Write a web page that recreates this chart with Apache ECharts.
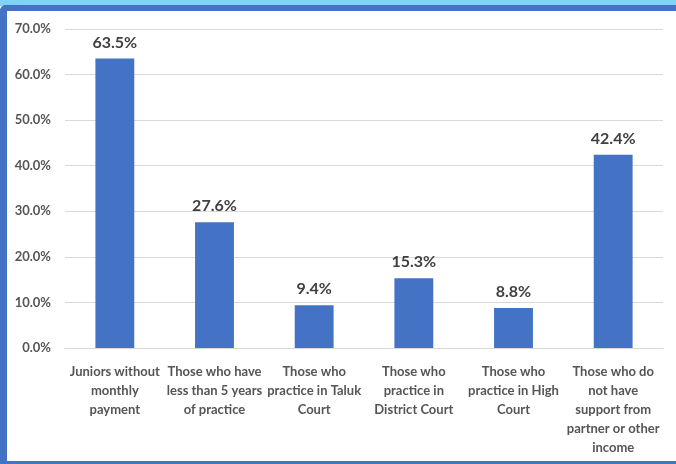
<!DOCTYPE html>
<html>
<head>
<meta charset="utf-8">
<script src="https://cdn.jsdelivr.net/npm/echarts@6/dist/echarts.min.js"></script>
<style>
  html, body { margin: 0; padding: 0; background: #ffffff; }
  #chart { width: 676px; height: 464px; }
</style>
</head>
<body>
<div id="chart"></div>
<script>
// Groups of juniors and their share (%)
const categories = [
  'Juniors without\nmonthly\npayment',
  'Those who have\nless than 5 years\nof practice',
  'Those who\npractice in Taluk\nCourt',
  'Those who\npractice in\nDistrict Court',
  'Those who\npractice in High\nCourt',
  'Those who do\nnot have\nsupport from\npartner or other\nincome'
];
const shares = [63.5, 27.6, 9.4, 15.3, 8.8, 42.4];
const yTicks = { min: 0, max: 70, interval: 10 };

const fontFamily = 'Lato, "Open Sans", sans-serif';

const chart = echarts.init(document.getElementById('chart'), null, { renderer: 'canvas' });
chart.setOption({
  backgroundColor: '#ffffff',
  animation: false,
  grid: { left: 65, right: 13, top: 29, bottom: 116, containLabel: false },
  xAxis: {
    type: 'category',
    data: categories,
    axisLine: { show: true, lineStyle: { color: '#d9d9d9', width: 1 } },
    axisTick: { show: false },
    axisLabel: {
      interval: 0,
      margin: 14,
      color: '#555555',
      fontFamily: fontFamily,
      fontWeight: 'bold',
      fontSize: 13,
      lineHeight: 19,
      align: 'center'
    }
  },
  yAxis: {
    type: 'value',
    min: yTicks.min,
    max: yTicks.max,
    interval: yTicks.interval,
    axisLine: { show: false },
    axisTick: { show: false },
    splitLine: { lineStyle: { color: '#d9d9d9', width: 1 } },
    axisLabel: {
      margin: 14,
      color: '#555555',
      fontFamily: fontFamily,
      fontWeight: 'bold',
      fontSize: 13,
      formatter: v => v.toFixed(1) + '%'
    }
  },
  series: [{
    type: 'bar',
    data: shares,
    barWidth: '39%',
    itemStyle: { color: '#4472c4' },
    label: {
      show: true,
      position: 'top',
      distance: 8,
      color: '#404040',
      fontFamily: fontFamily,
      fontWeight: 'bold',
      fontSize: 16,
      formatter: p => p.value.toFixed(1) + '%'
    }
  }],
  graphic: [
    // window frame: light top strip and blue border
    { type: 'rect', shape: { x: 0, y: 0, width: 676, height: 6 }, style: { fill: '#80d3f7' }, silent: true },
    { type: 'rect', shape: { x: 0, y: 5, width: 676, height: 6, r: [6, 0, 0, 0] }, style: { fill: '#4472c4' }, silent: true },
    { type: 'rect', shape: { x: 0, y: 5, width: 7, height: 459, r: [6, 0, 0, 0] }, style: { fill: '#4472c4' }, silent: true },
    { type: 'rect', shape: { x: 0, y: 461, width: 676, height: 3 }, style: { fill: '#4472c4' }, silent: true }
  ]
});
</script>
</body>
</html>
